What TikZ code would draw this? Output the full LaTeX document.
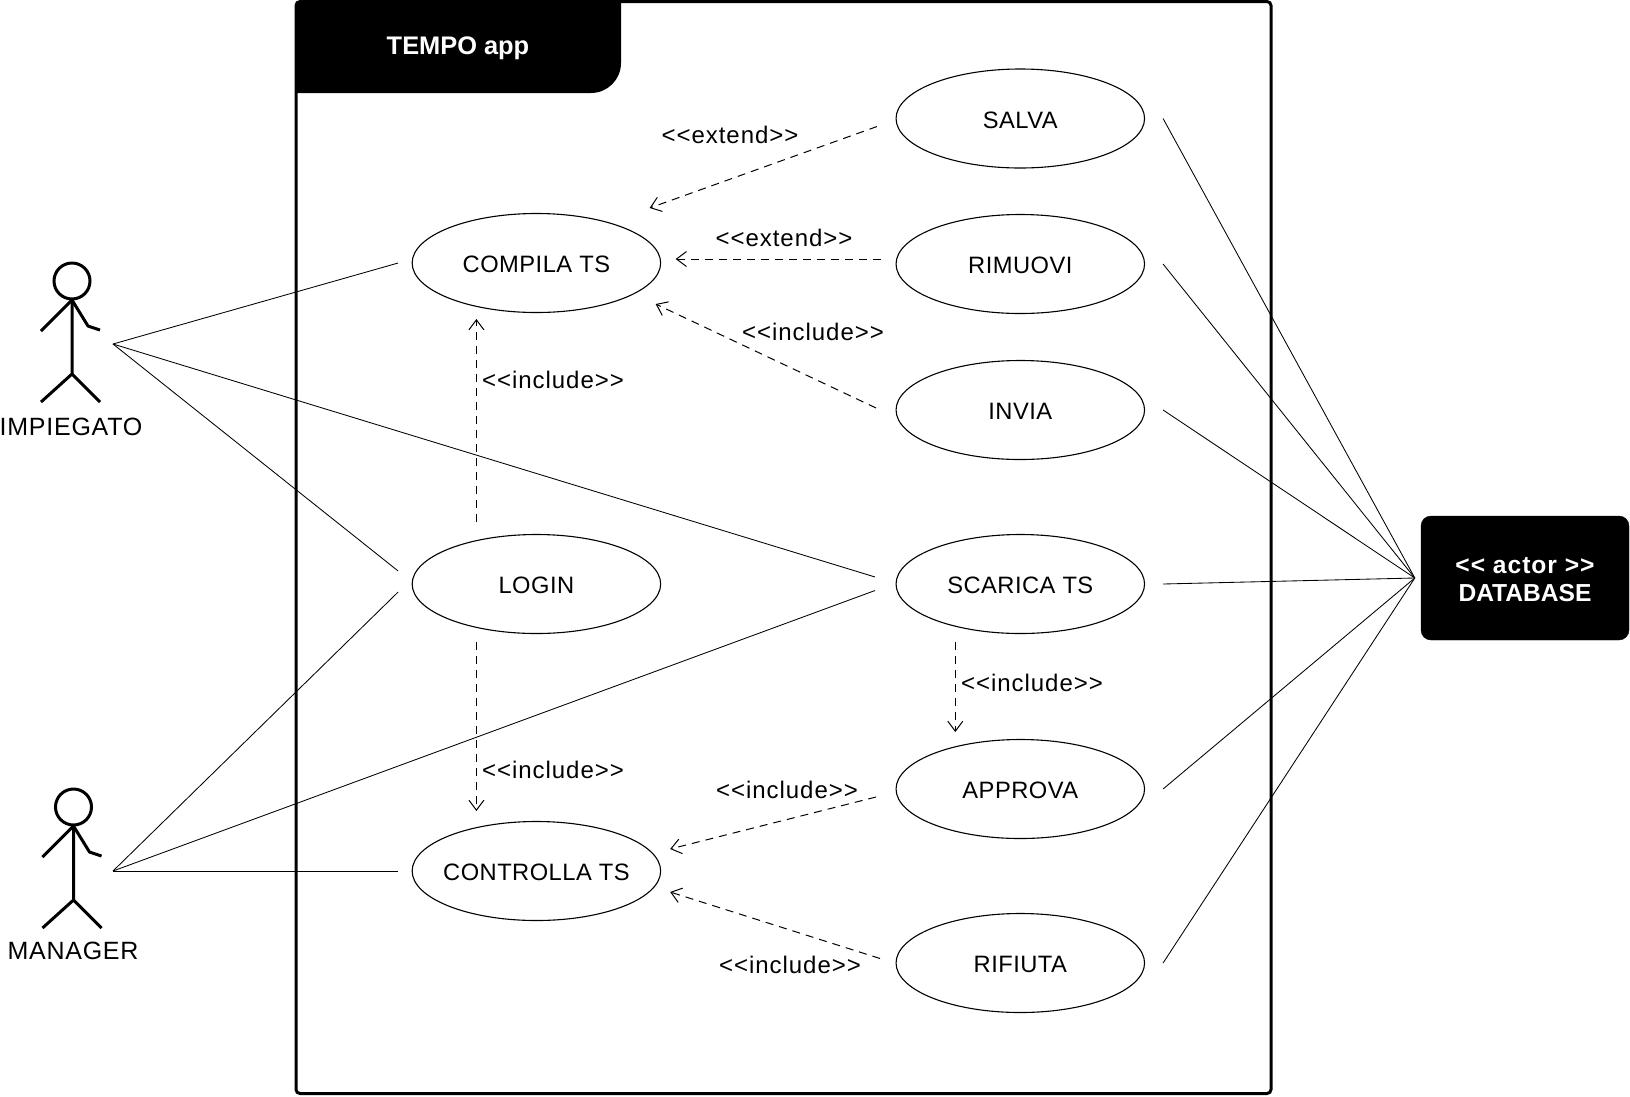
\documentclass[tikz,border=0pt]{standalone}
\usepackage{fontspec}
\setmainfont{Liberation Sans}[Ligatures=NoCommon]
\usetikzlibrary{positioning}
\usetikzlibrary{shapes.geometric}
\usetikzlibrary{arrows.meta}

\newfontfamily\labelfont{Liberation Sans}[LetterSpace=2]
\newfontfamily\deplabelfont{Liberation Sans}[LetterSpace=4]
\newfontfamily\actorfont{Liberation Sans}[LetterSpace=3]
\newfontfamily\boldlabelfont{Liberation Sans Bold}
\newfontfamily\spacedboldfont{Liberation Sans Bold}[LetterSpace=4]

\tikzset{
	usecase/.style={ellipse, draw, line width=1.1pt, inner ysep=0pt, inner xsep=-10pt, outer sep=14pt, minimum width=248.5pt, minimum height=99pt, text height=19pt, text depth=0pt, font=\labelfont\fontsize{23.7}{28}\selectfont},
	link/.style={line width=0.85pt},
	dep/.style={line width=1pt, dash pattern=on 8pt off 6pt, -{Straight Barb[length=10pt,width=15pt,line width=1pt]}},
	deplabel/.style={font=\deplabelfont\fontsize{24}{28}\selectfont, inner sep=0pt},
	actorname/.style={font=\actorfont\fontsize{25}{30}\selectfont, inner sep=0pt},
	stickman/.pic={
		\draw[line width=3pt] (0,-63) circle[radius=18pt];
		\draw[line width=3pt, line join=round] (0,-44) -- (0,30) (-31,58) -- (0,30) -- (28,58);
		\draw[line width=3pt, line join=round] (-31,-13) -- (0,-44) -- (16,-18) -- (28,-14);
	}
}

\begin{document}
\begin{tikzpicture}[x=1pt, y=-1pt]
	\useasboundingbox (0,0) rectangle (1630,1096);
	% system frame and its tab
	\node[draw, line width=3pt, rounded corners=4pt, inner sep=0pt, outer sep=0pt, minimum width=975pt, minimum height=1092pt, anchor=north west] (frame) at (296,1.5) {};
	\fill (296,93) [rounded corners=4pt] -- (frame.north west) [sharp corners] -- ++(325,0) [rounded corners=30pt] -- ++(0,91.5) [sharp corners] -- cycle;
	\node[font=\boldlabelfont\fontsize{25.4}{30}\selectfont, text=white, inner sep=0pt] (title) at (458,48) {TEMPO app};

	% use cases, left column
	\node[usecase] (compila) at (536.4,263) {COMPILA TS};
	\node[usecase, below=194pt of compila] (login) {LOGIN};
	\node[usecase, below=160pt of login] (controlla) {CONTROLLA TS};
	% use cases, right column
	\node[usecase] (salva) at (1020.3,118.5) {SALVA};
	\node[usecase, below=18.5pt of salva] (rimuovi) {RIMUOVI};
	\node[usecase, below=19pt of rimuovi] (invia) {INVIA};
	\node[usecase, below=47pt of invia] (scarica) {SCARICA TS};
	\node[usecase, below=78pt of scarica] (approva) {APPROVA};
	\node[usecase, below=47pt of approva] (rifiuta) {RIFIUTA};

	% actors
	\pic at (72,344) {stickman};
	\pic at (73.5,870) {stickman};
	\coordinate (impiegato) at (113,344);
	\coordinate (manager) at (113,871);
	\node[actorname] (impiegatoname) at (71,427) {IMPIEGATO};
	\node[actorname] (managername) at (73,951) {MANAGER};
	\node[draw, fill=black, rounded corners=10pt, minimum width=208pt, minimum height=124pt, inner sep=0pt] (database) at (1525,578) {};
	\node[text=white, inner sep=0pt, align=center, font=\boldlabelfont\fontsize{24.6}{28}\selectfont] (databasename) at (1525,580) {{\spacedboldfont << actor >>}\\DATABASE};
	\coordinate (dbport) at ([xshift=-6pt]database.west);

	% actor links
	\draw[link] (impiegato) -- (compila.west);
	\draw[link] (impiegato) -- ([yshift=13pt]login.west);
	\draw[link] (impiegato) -- ([xshift=-7pt,yshift=7pt]scarica.west);
	\draw[link] (manager) -- ([yshift=-8pt]login.west);
	\draw[link] (manager) -- ([xshift=-7pt,yshift=-6.5pt]scarica.west);
	\draw[link] (manager) -- (controlla.west);
	% database links
	\foreach \usecasename in {salva, rimuovi, invia, scarica, approva, rifiuta}
		\draw[link] ([xshift=4.5pt]\usecasename.east) -- (dbport);

	% dependencies
	\draw[dep] ([xshift=-5pt,yshift=-8pt]salva.west) -- ([xshift=-25pt,yshift=55pt]compila.east);
	\draw[dep] ([xshift=-1pt,yshift=5pt]rimuovi.west) -- ([xshift=1pt,yshift=4pt]compila.east);
	\draw[dep] ([xshift=-6pt,yshift=2pt]invia.west) -- ([xshift=-19pt,yshift=-41pt]compila.east);
	\draw[dep] ([xshift=-60pt,yshift=-1.5pt]login.north) -- ([xshift=-60pt,yshift=7.5pt]compila.south);
	\draw[dep] ([xshift=-60pt,yshift=5.5pt]login.south) -- ([xshift=-60pt,yshift=-3.5pt]controlla.north);
	\draw[dep] ([xshift=-65pt,yshift=5.5pt]scarica.south) -- ([xshift=-65pt,yshift=-6.5pt]approva.north);
	\draw[dep] ([xshift=-6pt,yshift=-8pt]approva.west) -- ([xshift=-4.5pt,yshift=22pt]controlla.east);
	\draw[dep] ([xshift=-2pt,yshift=4.5pt]rifiuta.west) -- ([xshift=-4.5pt,yshift=-21pt]controlla.east);

	% dependency labels
	\node[deplabel] (extendsalva) at (730,135) {<<extend>>};
	\node[deplabel] (extendrimuovi) at (784,238) {<<extend>>};
	\node[deplabel] (includeinvia) at (813,331.5) {<<include>>};
	\node[deplabel] (includecompila) at (553,379.5) {<<include>>};
	\node[deplabel] (includecontrolla) at (553,770) {<<include>>};
	\node[deplabel] (includeapprova) at (1032,683) {<<include>>};
	\node[deplabel] (includeesito) at (787,790) {<<include>>};
	\node[deplabel] (includerifiuta) at (790,965) {<<include>>};
\end{tikzpicture}
\end{document}
